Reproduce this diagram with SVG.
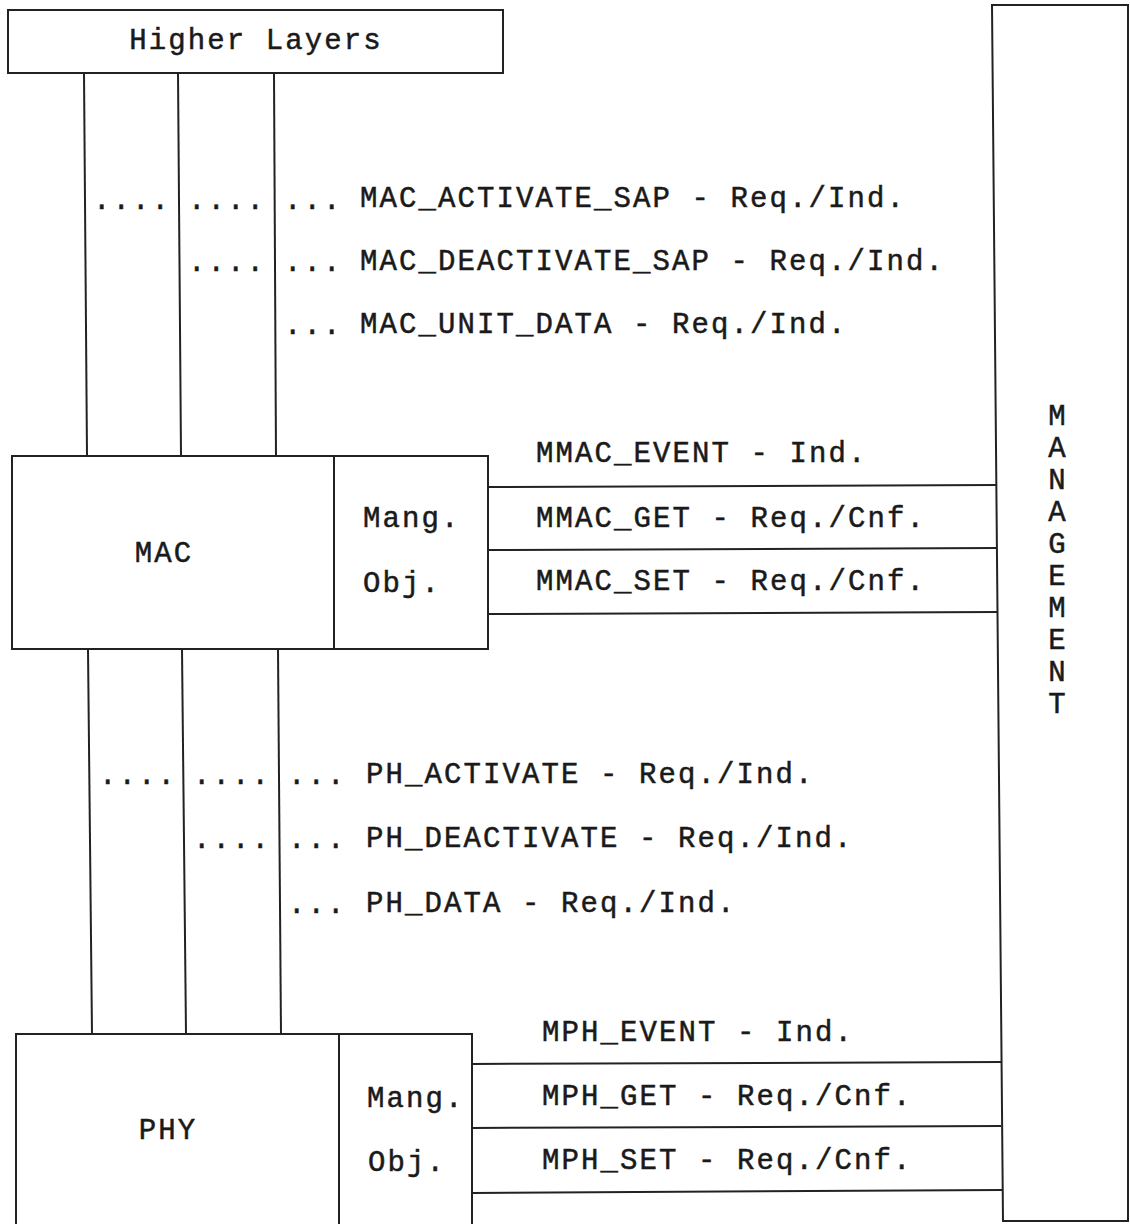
<svg xmlns="http://www.w3.org/2000/svg" width="1130" height="1224" viewBox="0 0 1130 1224">
<style>
.ln{stroke:#222;stroke-width:2;fill:none}
.bx{stroke:#222;stroke-width:2;fill:#fff}
text{font-family:"Liberation Mono","DejaVu Sans Mono",monospace;font-size:29px;letter-spacing:2.1px;fill:#1a1a1a;stroke:#1a1a1a;stroke-width:0.5px}
.c{text-anchor:middle}
</style>
<rect width="1130" height="1224" fill="#fff"/>
<g id="connectors">
<line class="ln" x1="84" y1="73" x2="87" y2="456"/>
<line class="ln" x1="178" y1="73" x2="181" y2="456"/>
<line class="ln" x1="274" y1="73" x2="276" y2="456"/>
<line class="ln" x1="88" y1="649" x2="92" y2="1034"/>
<line class="ln" x1="182" y1="649" x2="186" y2="1034"/>
<line class="ln" x1="278" y1="649" x2="281" y2="1034"/>
<line class="ln" x1="488" y1="487" x2="996" y2="485"/>
<line class="ln" x1="488" y1="550" x2="997" y2="548"/>
<line class="ln" x1="488" y1="614" x2="997" y2="612"/>
<line class="ln" x1="472" y1="1064" x2="1001" y2="1062"/>
<line class="ln" x1="472" y1="1128" x2="1001" y2="1126"/>
<line class="ln" x1="472" y1="1193" x2="1002" y2="1190"/>
</g>
<g id="higher-layers">
<rect class="bx" x="8" y="10" width="495" height="63"/>
<text class="c" x="256" y="49">Higher Layers</text>
</g>
<g id="management">
<path class="bx" d="M992,5 L1128,5 L1128,1221 L1003,1221 Z"/>
<text class="c" x="1058" y="425">M</text>
<text class="c" x="1058" y="457">A</text>
<text class="c" x="1058" y="489">N</text>
<text class="c" x="1058" y="521">A</text>
<text class="c" x="1058" y="553">G</text>
<text class="c" x="1058" y="585">E</text>
<text class="c" x="1058" y="617">M</text>
<text class="c" x="1058" y="649">E</text>
<text class="c" x="1058" y="681">N</text>
<text class="c" x="1058" y="713">T</text>
</g>
<g id="mac">
<rect class="bx" x="12" y="456" width="476" height="193"/>
<line class="ln" x1="334" y1="456" x2="334" y2="649"/>
<text class="c" x="164" y="562">MAC</text>
<text x="363" y="527">Mang.</text>
<text x="363" y="592">Obj.</text>
</g>
<g id="phy">
<path class="bx" d="M16,1226 L16,1034 L472,1034 L472,1226"/>
<line class="ln" x1="339" y1="1034" x2="339" y2="1226"/>
<text class="c" x="168" y="1139">PHY</text>
<text x="367" y="1107">Mang.</text>
<text x="368" y="1171">Obj.</text>
</g>
<g id="mac-service-primitives">
<text x="93" y="209">....</text>
<text x="188" y="209">....</text>
<text x="284" y="209">...</text>
<text x="188" y="271">....</text>
<text x="284" y="271">...</text>
<text x="284" y="334">...</text>
<text x="360" y="207">MAC_ACTIVATE_SAP - Req./Ind.</text>
<text x="360" y="270">MAC_DEACTIVATE_SAP - Req./Ind.</text>
<text x="360" y="333">MAC_UNIT_DATA - Req./Ind.</text>
</g>
<g id="mac-management-primitives">
<text x="536" y="462">MMAC_EVENT - Ind.</text>
<text x="536" y="527">MMAC_GET - Req./Cnf.</text>
<text x="536" y="590">MMAC_SET - Req./Cnf.</text>
</g>
<g id="phy-service-primitives">
<text x="99" y="784">....</text>
<text x="193" y="784">....</text>
<text x="288" y="784">...</text>
<text x="193" y="848">....</text>
<text x="288" y="848">...</text>
<text x="288" y="913">...</text>
<text x="366" y="783">PH_ACTIVATE - Req./Ind.</text>
<text x="366" y="847">PH_DEACTIVATE - Req./Ind.</text>
<text x="366" y="912">PH_DATA - Req./Ind.</text>
</g>
<g id="phy-management-primitives">
<text x="542" y="1041">MPH_EVENT - Ind.</text>
<text x="542" y="1105">MPH_GET - Req./Cnf.</text>
<text x="542" y="1169">MPH_SET - Req./Cnf.</text>
</g>
</svg>
